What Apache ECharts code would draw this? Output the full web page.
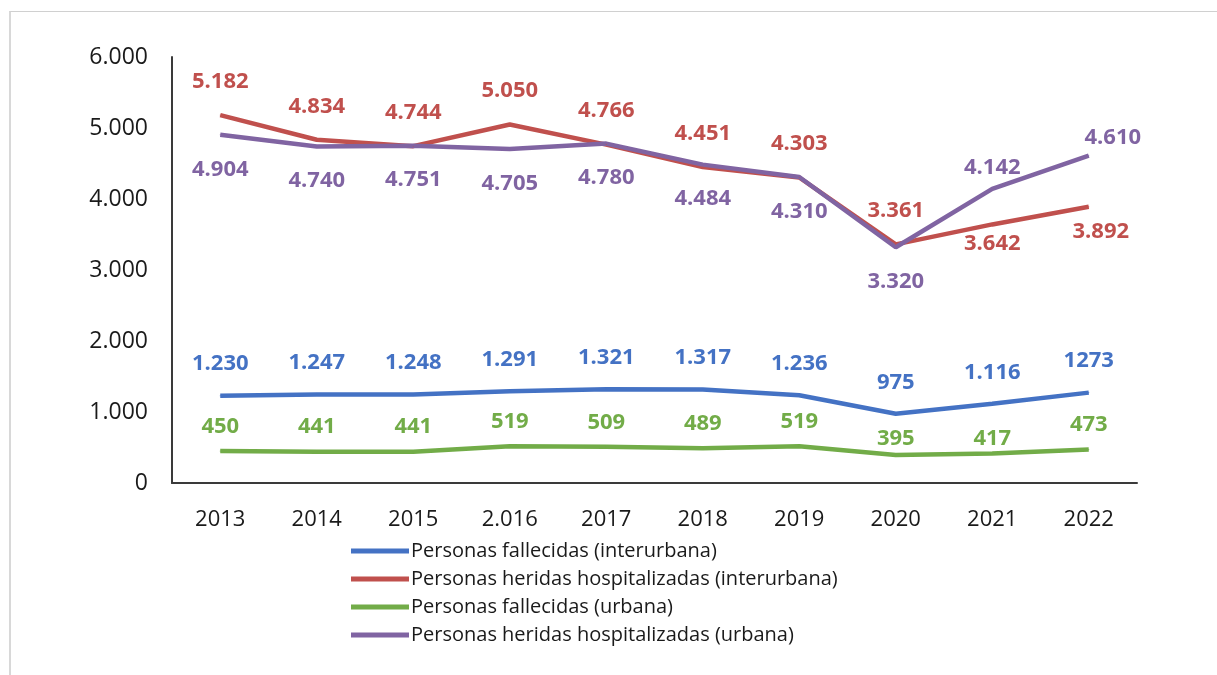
<!DOCTYPE html>
<html>
<head>
<meta charset="utf-8">
<script src="https://cdn.jsdelivr.net/npm/echarts@6/dist/echarts.min.js"></script>
<style>
html,body{margin:0;padding:0;background:#fff;}
#frame{position:absolute;left:9px;top:11px;width:1300px;height:700px;border-top:1px solid #d0d0d0;border-left:2px solid #d8d8d8;}
#chart{position:absolute;left:0;top:0;width:1217px;height:675px;}
</style>
</head>
<body>
<div id="frame"></div>
<div id="chart"></div>
<script>
const categories = ['2013','2014','2015','2.016','2017','2018','2019','2020','2021','2022'];
const seriesNames = [
  'Personas fallecidas (interurbana)',
  'Personas heridas hospitalizadas (interurbana)',
  'Personas fallecidas (urbana)',
  'Personas heridas hospitalizadas (urbana)'
];
const fallecidasInter = [1230,1247,1248,1291,1321,1317,1236,975,1116,1273];
const heridasInter = [5182,4834,4744,5050,4766,4451,4303,3361,3642,3892];
const fallecidasUrb = [450,441,441,519,509,489,519,395,417,473];
const heridasUrb = [4904,4740,4751,4705,4780,4484,4310,3320,4142,4610];
const fallecidasInterLabels = ['1.230','1.247','1.248','1.291','1.321','1.317','1.236','975','1.116','1273'];
const yTickLabels = {0:'0',1000:'1.000',2000:'2.000',3000:'3.000',4000:'4.000',5000:'5.000',6000:'6.000'};

const colors = ['#4472C4','#C0504D','#72AC48','#8064A2'];
const fontFamily = '"Open Sans", Lato, sans-serif';

function fmt(v){ return String(v).replace(/\B(?=(\d{3})+(?!\d))/g,'.'); }

function build(values, basePos, baseDist, overrides, labelTexts){
  return values.map((v,i)=>{
    const o = overrides[i] || {};
    return {
      value: v,
      label: {
        position: o.pos || basePos,
        distance: o.dist !== undefined ? o.dist : baseDist,
        offset: o.offset || [0,0],
        formatter: labelTexts ? labelTexts[i] : fmt(v)
      }
    };
  });
}

const chart = echarts.init(document.getElementById('chart'));
const mk = (name, data, color) => ({
  name, type:'line', data,
  symbol:'circle', symbolSize:1,
  itemStyle:{color},
  lineStyle:{color, width:4.5},
  label:{show:true, color, fontSize:22, fontWeight:'bold', fontFamily, lineHeight:24},
  emphasis:{disabled:true},
  z: 2
});

chart.setOption({
  animation:false,
  backgroundColor:'transparent',
  grid:{left:172, right:80, top:57, bottom:192},
  legend:{
    orient:'vertical', left:346, top:535,
    itemWidth:58, itemHeight:5, itemGap:6,
    icon:'rect',
    textStyle:{fontSize:20, color:'#1a1a1a', fontFamily, padding:[0,0,0,-3], lineHeight:22},
    data: seriesNames
  },
  xAxis:{
    type:'category', data:categories, boundaryGap:true,
    axisLine:{lineStyle:{color:'#3a3a3a', width:2}},
    axisTick:{show:false},
    axisLabel:{color:'#1a1a1a', fontSize:22, margin:25, fontFamily, lineHeight:24}
  },
  yAxis:{
    type:'value', min:0, max:6000, interval:1000,
    splitLine:{show:false},
    axisLine:{show:true, lineStyle:{color:'#3a3a3a', width:2}},
    axisTick:{show:false},
    axisLabel:{color:'#1a1a1a', fontSize:23, margin:24, fontFamily, formatter:v=>yTickLabels[v]}
  },
  series:[
    mk(seriesNames[0], build(fallecidasInter, 'top', 19, {}, fallecidasInterLabels), colors[0]),
    mk(seriesNames[1], build(heridasInter, 'top', 21, {
      8:{pos:'bottom', dist:7},
      9:{pos:'bottom', dist:13, offset:[12,0]}
    }), colors[1]),
    mk(seriesNames[2], build(fallecidasUrb, 'top', 12, {7:{dist:4},8:{dist:2}}), colors[2]),
    mk(seriesNames[3], build(heridasUrb, 'bottom', 22, {
      8:{pos:'top', dist:9},
      9:{pos:'top', dist:5, offset:[24,0]}
    }), colors[3])
  ]
});
</script>
</body>
</html>
